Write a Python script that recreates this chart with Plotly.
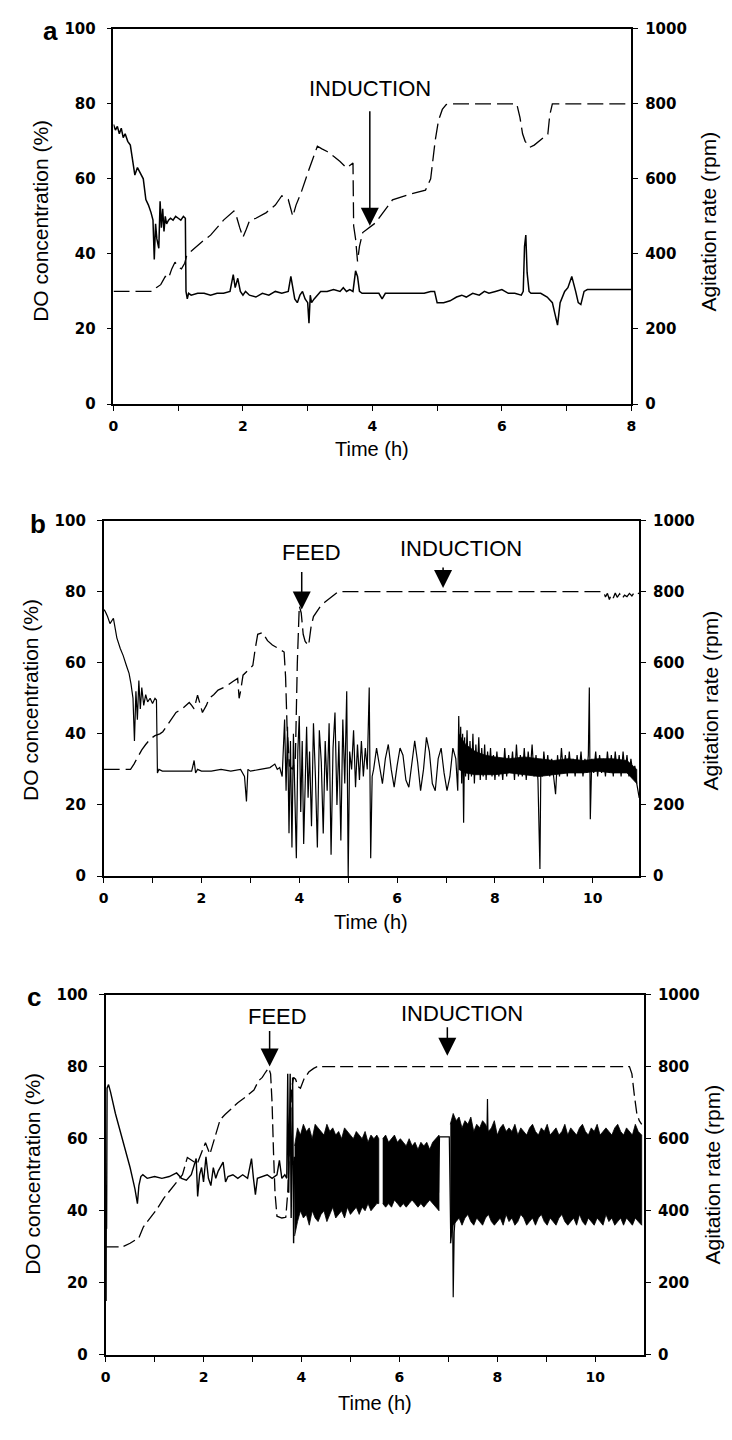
import plotly.graph_objects as go

# ---------------- Panel a ----------------
a_do_t = [0.00,0.03,0.06,0.09,0.12,0.15,0.18,0.22,0.26,0.30,
          0.33,0.37,0.42,0.46,0.50,0.54,0.58,0.61,0.63,0.65,
          0.67,0.70,0.72,0.74,0.76,0.78,0.80,0.82,0.85,0.88,
          0.92,0.96,1.00,1.04,1.08,1.11,1.12,1.14,1.16,1.20,
          1.30,1.40,1.50,1.60,1.70,1.80,1.85,1.88,1.92,1.96,
          2.00,2.04,2.10,2.20,2.30,2.40,2.50,2.60,2.70,2.74,
          2.77,2.80,2.84,2.88,2.92,2.96,3.00,3.02,3.04,3.06,
          3.10,3.15,3.20,3.30,3.40,3.50,3.55,3.60,3.65,3.70,
          3.74,3.77,3.80,3.84,3.90,4.00,4.10,4.15,4.20,4.30,
          4.40,4.50,4.60,4.70,4.80,4.90,4.96,5.00,5.10,5.20,
          5.30,5.38,5.45,5.55,5.65,5.73,5.80,5.90,6.00,6.10,
          6.20,6.30,6.33,6.35,6.37,6.39,6.42,6.45,6.50,6.60,
          6.70,6.78,6.82,6.86,6.90,6.93,6.97,7.02,7.08,7.14,
          7.18,7.22,7.27,7.32,7.37,7.45,7.60,7.80,8.00]
a_do = [74.5,73,74,72,73.5,71,72,70,69,65,
        61,63,61.5,60,54.5,53,51,49,38.5,48,
        44,41.5,54,47,52,46,50,48,49,49.5,
        49,50,49.5,49,50,49.5,30,28,29.5,29,
        29.5,29.5,29,29.5,29.5,30,34.5,31,33.5,30,
        29,30,29,28.5,29.5,29,30,29.5,30,34,
        31,28,27,29,30,28,27,21.5,29,27,
        28,29,30,30,30.5,30,31,30,30.5,30,
        35.5,34,30,29.5,29.5,29.5,29.5,28,29.5,29.5,
        29.5,29.5,29.5,29.5,29.5,30,30,27,27,27.5,
        28.5,29,28.5,29.5,29,30,29.5,30,30.5,29.5,
        29.5,29,30,42,45,35,30,29.5,29.5,29.5,
        28.5,27,24,21,27,28.5,30,31,34,30,
        27,26.5,30,30.5,30.5,30.5,30.5,30.5,30.5]

a_agit_t = [0.00,0.60,0.66,0.73,0.80,0.85,0.90,0.95,1.00,1.05,
            1.10,1.13,1.18,1.35,1.50,1.70,1.86,1.90,1.95,2.00,
            2.05,2.10,2.20,2.36,2.50,2.60,2.70,2.77,2.82,2.90,
            3.02,3.10,3.15,3.22,3.30,3.40,3.50,3.60,3.70,3.71,
            3.74,3.77,3.80,3.85,3.95,4.05,4.31,4.60,4.82,4.90,
            4.97,5.02,5.08,5.14,5.20,6.23,6.28,6.32,6.36,6.43,
            6.50,6.58,6.65,6.71,6.74,6.78,8.00]
a_agit = [300,300,310,318,340,335,360,378,365,360,
          375,395,404,430,450,490,514,500,470,444,
          465,488,495,510,530,555,545,500,530,564,
          625,660,687,680,673,660,646,629,642,475,
          440,380,420,457,470,483,544,560,570,600,
          702,755,785,798,800,800,763,720,700,684,
          690,702,712,719,770,800,800]

# ---------------- Panel b ----------------
b_do_t = [0.00,0.03,0.08,0.13,0.20,0.27,0.34,0.40,0.47,0.52,
          0.56,0.60,0.63,0.66,0.69,0.72,0.75,0.78,0.82,0.86,
          0.90,0.95,1.00,1.05,1.08,1.10,1.13,1.20,1.40,1.60,
          1.80,1.85,1.88,1.92,2.00,2.20,2.40,2.60,2.80,2.88,
          2.92,2.95,3.00,3.20,3.40,3.50,3.55,3.60,3.65,3.70,
          3.73,3.76,3.79,3.82,3.85,3.88,3.91,3.94,3.97,4.00,
          4.03,4.06,4.09,4.12,4.15,4.18,4.21,4.25,4.29,4.33,
          4.37,4.41,4.45,4.49,4.53,4.57,4.61,4.65,4.69,4.73,
          4.77,4.81,4.85,4.89,4.93,4.97,5.00,5.03,5.07,5.11,
          5.15,5.19,5.23,5.27,5.31,5.35,5.39,5.43,5.46,5.49,
          5.52,5.58,5.64,5.70,5.76,5.82,5.88,5.94,6.00,6.06,
          6.12,6.18,6.24,6.30,6.36,6.42,6.48,6.54,6.60,6.66,
          6.72,6.78,6.84,6.90,6.96,7.02,7.08,7.14,7.20,7.24,
          7.26,7.28,7.30,7.32,7.34,7.36,7.38,7.40,7.43,7.46,
          7.49,7.52,7.55,7.58,7.61,7.64,7.67,7.70,7.73,7.76,
          7.79,7.82,7.85,7.88,7.91,7.94,7.97,8.00,8.04,8.08,
          8.12,8.16,8.20,8.24,8.28,8.32,8.36,8.40,8.44,8.48,
          8.52,8.56,8.60,8.64,8.68,8.72,8.76,8.80,8.84,8.88,
          8.92,8.94,8.97,9.00,9.04,9.08,9.12,9.16,9.20,9.24,
          9.28,9.32,9.36,9.40,9.44,9.48,9.52,9.56,9.60,9.64,
          9.68,9.72,9.76,9.80,9.84,9.88,9.91,9.93,9.95,9.98,
          10.02,10.06,10.10,10.14,10.18,10.22,10.26,10.30,10.34,10.38,
          10.42,10.46,10.50,10.54,10.58,10.62,10.66,10.70,10.74,10.78,
          10.82,10.86,10.90,10.95]
b_do = [75,74.5,73,71,72.5,67,64,62,59,57,
        54,50,38,52,44,55,47,53,48,51,
        49,50,48.5,50,49.5,29,30,29.5,29.5,29.5,
        29.5,32.5,29,30,29.5,29.5,30,29.5,30,28,
        21,30,29.5,30,30.5,31.5,30,30.5,28,44,
        24,42,12,38,8,40,20,5,35,45,
        18,38,9,30,42,22,35,14,43,28,
        8,41,32,12,38,24,43,6,36,46,
        20,38,10,44,26,52,0,35,30,41,
        25,37,27,38,28,36,30,53,5,28,
        30,36,31,26,33,37,30,25,31,36,
        34,27,25,32,38,32,24,30,39,35,
        26,24,33,36,29,24,28,36,33,24,
        45,30,42,26,40,15,39,28,41,27,
        38,28,40,26,37,29,39,27,36,28,
        37,27,35,29,36,28,34,27,35,28,
        33,27,36,28,34,29,35,27,37,28,
        34,28,36,27,35,29,37,28,34,27,
        2,33,28,35,29,34,28,33,27,23,
        34,28,36,29,34,28,35,29,33,28,
        34,29,35,28,33,29,34,53,16,33,
        29,35,28,34,29,33,28,35,29,34,
        28,35,29,34,28,35,29,34,28,33,
        29,31,26,22]

b_core_t = [7.26,7.40,7.60,7.80,8.00,8.30,8.60,8.90,9.20,9.50,9.80,10.10,10.40,10.70,10.90]
b_core_hi = [40,37,35,34,33.5,33,33.5,33,32.5,33,32.5,33,33,32.5,30]
b_core_lo = [30,29,28.5,28.5,28.5,29,28.5,28,28.5,29,29,29.5,29,29,26]

b_agit_t = [0.00,0.55,0.62,0.70,0.78,0.86,0.95,1.05,1.15,1.21,
            1.30,1.48,1.60,1.75,1.80,1.85,1.92,2.02,2.10,2.16,
            2.25,2.34,2.45,2.54,2.65,2.74,2.77,2.80,2.85,2.95,
            3.05,3.10,3.15,3.25,3.35,3.45,3.59,3.69,3.72,3.75,
            3.80,3.86,3.92,3.96,4.00,4.04,4.08,4.12,4.19,4.24,
            4.29,4.36,4.43,4.52,4.62,4.72,4.80,10.22,10.26,10.30,
            10.34,10.38,10.42,10.46,10.50,10.55,10.60,10.65,10.70,10.75,
            10.80,10.85,10.90,10.95]
b_agit = [300,300,315,335,355,370,385,395,400,406,
          425,460,470,488,480,470,509,460,480,500,
          510,523,530,537,548,556,500,520,565,580,
          592,640,680,685,662,650,639,630,560,420,
          310,300,330,600,760,740,680,660,648,700,
          730,745,758,770,780,790,800,800,785,795,
          778,792,782,796,784,794,780,790,786,795,
          788,798,792,796]

# ---------------- Panel c ----------------
c_do_t = [0.00,0.005,0.01,0.015,0.02,0.03,0.06,0.10,0.20,0.30,
          0.40,0.50,0.60,0.65,0.68,0.72,0.76,0.85,1.00,1.15,
          1.30,1.45,1.55,1.65,1.75,1.85,1.88,1.92,1.96,2.00,
          2.05,2.10,2.15,2.20,2.25,2.30,2.40,2.45,2.50,2.60,
          2.70,2.80,2.90,2.98,3.02,3.06,3.10,3.20,3.30,3.40,
          3.50,3.55,3.60,3.66,3.70,3.72,3.74,3.77,3.79,3.82,
          3.84,3.86]
c_do = [30,47,15,47,35,74,75,73,67,62,
        57,52,46,42,47,49.5,50,49,49.5,49,
        49.5,50.5,49,48.5,50,54.5,44,50,52,48,
        55,49,47,52,49,51,53.5,48,49.5,50,
        49,50,49,54.5,49,44.5,49,49.5,50,49,
        50,54,49,50,49,78,45,78,38,77,
        31,55]

c_late_t = [6.80,6.81,6.82,7.02,7.03,7.05,7.07,7.09,7.10,7.12,7.14,7.79,7.80,7.81]
c_late = [45,58,60.5,60.5,45,31,40,36,16,34,38,62,71,62]

c_seg1_t = [3.86,3.92,3.98,4.04,4.10,4.16,4.22,4.28,4.34,4.40,
            4.46,4.52,4.58,4.64,4.70,4.76,4.82,4.88,4.94,5.00,
            5.06,5.12,5.18,5.24,5.30,5.36,5.42,5.48,5.54,5.58]
c_seg1_hi = [58,63,61,64,62,63,60,64,63,62,
             61,64,62,63,61,62,60,63,62,61,
             60,62,61,60,62,59,61,60,61,60]
c_seg1_lo = [33,37,40,38,39,36,40,38,37,39,
             40,37,39,41,38,39,40,38,41,39,
             40,41,39,41,40,42,40,41,42,42]

c_seg2_t = [5.66,5.72,5.78,5.84,5.90,5.96,6.02,6.08,6.14,6.20,
            6.26,6.32,6.38,6.44,6.50,6.56,6.62,6.68,6.74,6.81]
c_seg2_hi = [60,61,59,60,61,59,60,59,58,60,
             58,59,57,59,58,59,57,59,60,61]
c_seg2_lo = [42,41,42,41,43,42,41,42,41,42,
             43,42,41,42,41,42,43,42,41,40]

c_seg3_t = [7.04,7.10,7.16,7.22,7.28,7.34,7.40,7.46,7.52,7.58,
            7.64,7.70,7.76,7.82,7.88,7.94,8.00,8.06,8.12,8.18,
            8.24,8.30,8.36,8.42,8.48,8.54,8.60,8.66,8.72,8.78,
            8.84,8.90,8.96,9.02,9.08,9.14,9.20,9.26,9.32,9.38,
            9.44,9.50,9.56,9.62,9.68,9.74,9.80,9.86,9.92,9.98,
            10.04,10.10,10.16,10.22,10.28,10.34,10.40,10.46,10.52,10.58,
            10.64,10.70,10.76,10.82,10.88,10.95]
c_seg3_hi = [64,67,65,66,63,65,64,66,62,64,
             63,65,64,62,63,65,61,63,64,62,
             63,62,64,61,63,62,61,63,64,62,
             61,63,62,64,61,62,63,61,62,64,
             61,63,62,61,63,64,62,61,63,62,
             64,61,62,63,62,61,63,64,62,61,
             63,62,61,64,62,61]
c_seg3_lo = [31,36,37,38,36,38,39,37,36,38,
             37,36,38,39,37,36,37,38,36,39,
             37,38,36,37,39,38,36,37,38,36,
             38,39,37,36,38,37,36,38,39,37,
             36,37,38,36,39,37,36,38,37,36,
             38,37,36,39,37,38,36,37,38,36,
             38,37,36,38,37,36]

c_agit_t = [0.00,0.35,0.50,0.68,0.77,0.96,1.05,1.19,1.33,1.45,
            1.57,1.67,1.77,1.87,1.97,2.04,2.13,2.22,2.34,2.44,
            2.60,2.70,2.85,3.03,3.12,3.20,3.27,3.33,3.37,3.40,
            3.43,3.46,3.50,3.60,3.68,3.72,3.76,3.80,3.84,3.88,
            3.93,3.98,4.05,4.15,4.25,4.32,10.70,10.75,10.80,10.85,
            10.90,10.95]
c_agit = [300,300,310,325,355,390,405,435,460,480,
          500,548,540,530,565,589,557,600,653,667,
          689,700,715,735,760,770,785,796,780,700,
          560,450,385,380,382,450,600,740,770,765,
          745,740,765,785,795,800,800,780,720,670,
          650,640]

pairs = {"a_do": (a_do_t, a_do), "a_agit": (a_agit_t, a_agit), "b_do": (b_do_t, b_do),
         "b_agit": (b_agit_t, b_agit), "c_do": (c_do_t, c_do), "c_agit": (c_agit_t, c_agit),
         "c_late": (c_late_t, c_late)}
for k, (t, v) in pairs.items():
    assert len(t) == len(v), (k, len(t), len(v))
for k, (t, h, l) in {"b_core": (b_core_t, b_core_hi, b_core_lo), "c1": (c_seg1_t, c_seg1_hi, c_seg1_lo),
                     "c2": (c_seg2_t, c_seg2_hi, c_seg2_lo), "c3": (c_seg3_t, c_seg3_hi, c_seg3_lo)}.items():
    assert len(t) == len(h) == len(l), (k, len(t), len(h), len(l))

W, H = 732, 1440
BLACK = "#000000"
TICKFONT = dict(family="DejaVu Sans", size=15, color=BLACK, weight="bold")
XTICKFONT = dict(family="DejaVu Sans", size=14, color=BLACK, weight="bold")
TEXTFONT = "Liberation Sans, Arial, sans-serif"


def px_x(p):
    return p / W


def px_y(p):
    return 1 - p / H


fig = go.Figure()

panels = [
    # xaxis, yleft, yright, x-domain px, y-domain px, xmax, dash
    ("x", "y", "y2", (110, 635), (20, 400), 8, "16px,6px"),
    ("x2", "y3", "y4", (100, 643), (518, 878), 10.95, "16px,6px"),
    ("x3", "y5", "y6", (102, 648), (998, 1363), 11, "13px,5px"),
]


def band(t, hi, lo, xa, ya):
    fig.add_trace(go.Scatter(x=list(t) + list(t)[::-1], y=list(hi) + list(lo)[::-1],
                             xaxis=xa, yaxis=ya, mode="lines", fill="toself",
                             fillcolor=BLACK, line=dict(color=BLACK, width=0.8),
                             hoverinfo="skip", showlegend=False))


def line(t, v, xa, ya, dash=None, width=1.3):
    fig.add_trace(go.Scatter(x=t, y=v, xaxis=xa, yaxis=ya, mode="lines",
                             line=dict(color=BLACK, width=width, dash=dash),
                             showlegend=False, hoverinfo="skip"))


# panel a
line(a_agit_t, a_agit, "x", "y2", dash=panels[0][6])
line(a_do_t, a_do, "x", "y", width=1.5)
# panel b
line(b_agit_t, b_agit, "x2", "y4", dash=panels[1][6])
band(b_core_t, b_core_hi, b_core_lo, "x2", "y3")
line(b_do_t, b_do, "x2", "y3", width=1.2)
# panel c
line(c_agit_t, c_agit, "x3", "y6", dash=panels[2][6])
line(c_do_t, c_do, "x3", "y5", width=1.4)
band(c_seg1_t, c_seg1_hi, c_seg1_lo, "x3", "y5")
band(c_seg2_t, c_seg2_hi, c_seg2_lo, "x3", "y5")
band(c_seg3_t, c_seg3_hi, c_seg3_lo, "x3", "y5")
line(c_late_t, c_late, "x3", "y5", width=1.2)

layout = dict(width=W, height=H, autosize=False, margin=dict(l=0, r=0, t=0, b=0),
              paper_bgcolor="white", plot_bgcolor="white", showlegend=False)

for xa, yl, yr, xd, yd, xmax, _ in panels:
    xk = "xaxis" + xa[1:]
    ylk = "yaxis" + yl[1:]
    yrk = "yaxis" + yr[1:]
    dom_x = [px_x(xd[0]), px_x(xd[1])]
    dom_y = [px_y(yd[1]), px_y(yd[0])]
    layout[xk] = dict(domain=dom_x, anchor=yl, range=[0, xmax], tickvals=[0, 2, 4, 6, 8, 10],
                      ticks="outside", ticklen=5, tickwidth=1.3, tickcolor=BLACK,
                      minor=dict(tickvals=[1, 3, 5, 7, 9], ticks="outside", ticklen=5,
                                 tickwidth=1.3, tickcolor=BLACK),
                      showline=True, linecolor=BLACK, linewidth=1.6, mirror=True,
                      showgrid=False, zeroline=False, tickfont=XTICKFONT, ticklabelstandoff=3)
    layout[ylk] = dict(domain=dom_y, anchor=xa, range=[0, 100], dtick=20,
                       ticks="outside", ticklen=5, tickwidth=1.3, tickcolor=BLACK,
                       showline=True, linecolor=BLACK, linewidth=1.6,
                       showgrid=False, zeroline=False, tickfont=TICKFONT, ticklabelstandoff=8)
    layout[yrk] = dict(domain=dom_y, anchor=xa, overlaying=yl, side="right", range=[0, 1000],
                       dtick=200, ticks="outside", ticklen=5, tickwidth=1.3, tickcolor=BLACK,
                       showline=True, linecolor=BLACK, linewidth=1.6,
                       showgrid=False, zeroline=False, tickfont=TICKFONT, ticklabelstandoff=4)

fig.update_layout(**layout)

ann = []


def txt(s, xp, yp, size, angle=0, bold=False):
    ann.append(dict(text=("<b>%s</b>" % s) if bold else s, x=px_x(xp), y=px_y(yp),
                    xref="paper", yref="paper", showarrow=False, textangle=angle,
                    xanchor="center", yanchor="middle",
                    font=dict(family=TEXTFONT, size=size, color=BLACK)))


def arrow(xv, yv, xa, ya, ay):
    ann.append(dict(text="", x=xv, y=yv, xref=xa, yref=ya, showarrow=True, ax=0, ay=ay,
                    arrowhead=2, arrowsize=2.4, arrowwidth=1.5, arrowcolor=BLACK, standoff=0))


# panel letters
txt("a", 46, 22, 26, bold=True)
txt("b", 33, 522, 26, bold=True)
txt("c", 29, 1000, 26, bold=True)

# axis titles
for (lx, rx, cy, ty, tx) in [(36, 713, 215, 446, 372), (26, 715, 700, 925, 371), (28, 717, 1180, 1412, 375)]:
    txt("DO concentration (%)", lx, cy, 21, angle=-90)
    txt("Agitation rate (rpm)", rx, cy, 21, angle=-90)
    txt("Time (h)", tx, ty, 20)

# event labels and arrows
txt("INDUCTION", 370, 80, 22)
arrow(3.96, 47.5, "x", "y", -116)
txt("FEED", 311, 550, 22)
arrow(4.05, 75, "x2", "y3", -39)
txt("INDUCTION", 462, 546, 22)
arrow(6.94, 81, "x2", "y3", -22)
txt("FEED", 276, 1020, 22)
arrow(3.35, 80, "x3", "y5", -37)
txt("INDUCTION", 463, 1017, 22)
arrow(6.98, 83, "x3", "y5", -30)

fig.update_layout(annotations=ann)
fig.write_html("out.html", config={"displayModeBar": False},
               post_script="document.body.style.margin='0';document.body.style.overflow='hidden';")
